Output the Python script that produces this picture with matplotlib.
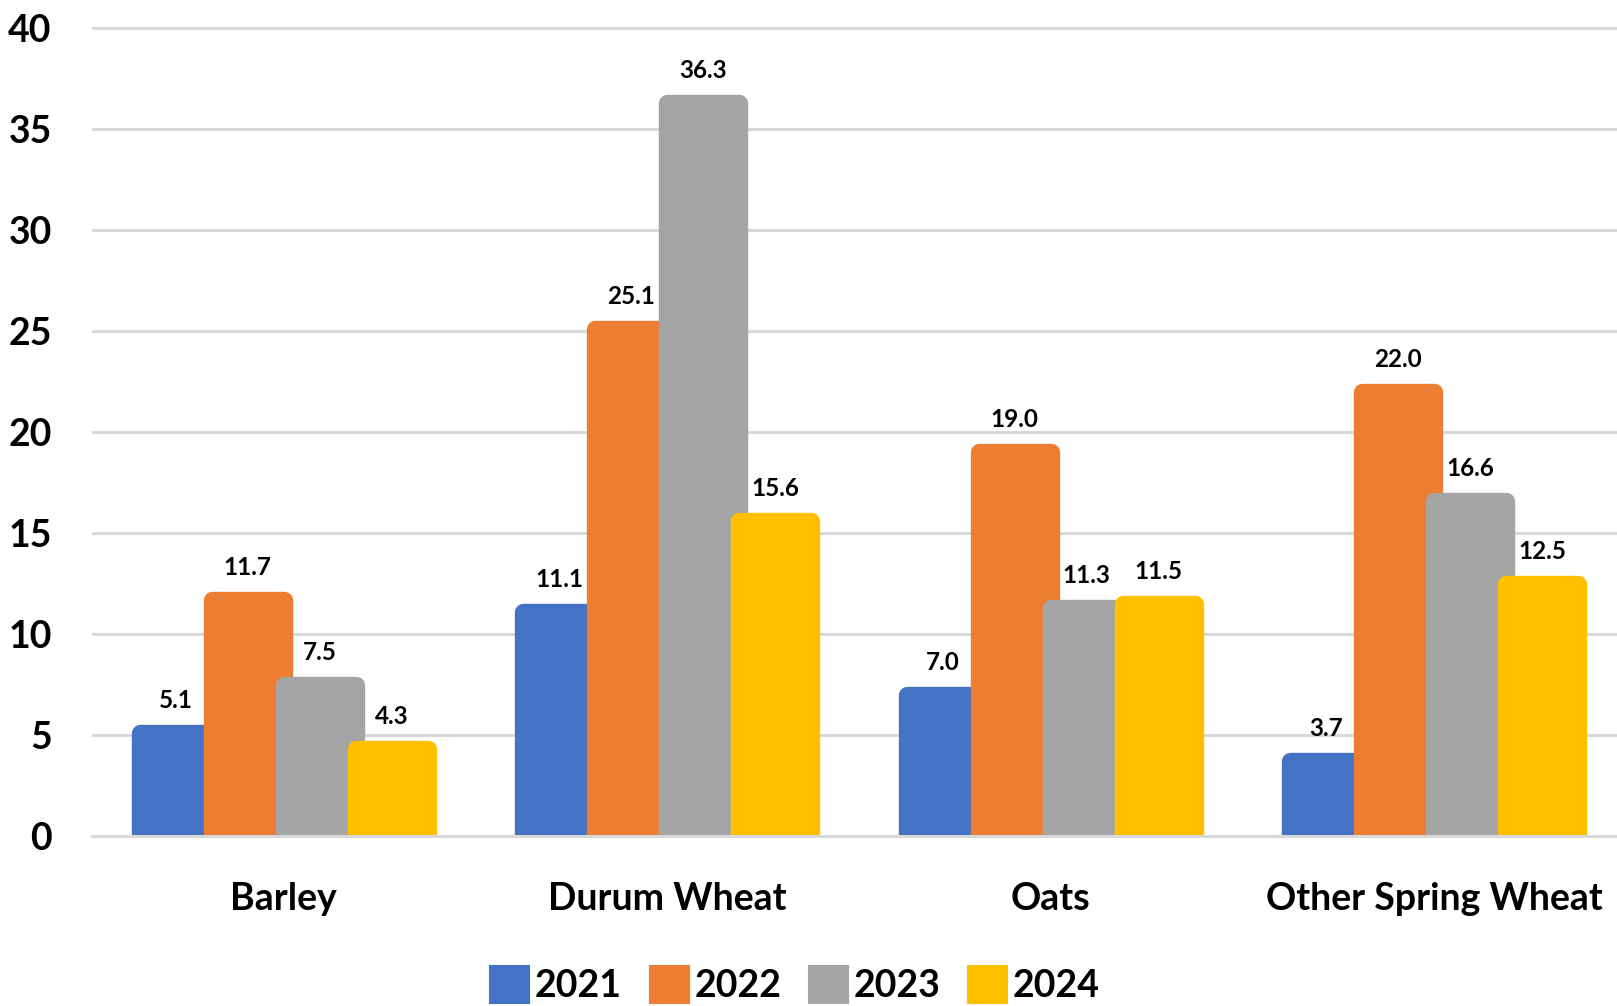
import matplotlib
matplotlib.use("Agg")
import matplotlib.pyplot as plt
import numpy as np
from matplotlib.patches import Patch

# data
crops = ["Barley", "Durum Wheat", "Oats", "Other Spring Wheat"]
years = ["2021", "2022", "2023", "2024"]
v2021 = [5.1, 11.1, 7.0, 3.7]
v2022 = [11.7, 25.1, 19.0, 22.0]
v2023 = [7.5, 36.3, 11.3, 16.6]
v2024 = [4.3, 15.6, 11.5, 12.5]
series = [v2021, v2022, v2023, v2024]
colors = ["#4472C4", "#ED7D31", "#A5A5A5", "#FFC000"]

plt.rcParams["font.family"] = ["Lato", "DejaVu Sans"]
plt.rcParams["font.weight"] = "bold"

fig = plt.figure(figsize=(16.17, 10.06), dpi=100)
ax = fig.add_axes([92 / 1617, 1 - 836 / 1006, (1626 - 92) / 1617, (836 - 24) / 1006])

x = np.arange(len(crops))
w = 0.1875
for i, (vals, c) in enumerate(zip(series, colors)):
    pos = x + (i - 1.5) * w
    # thick round-joined edge gives the rounded corners of the original
    ax.bar(pos, vals, width=w, color=c, edgecolor=c, linewidth=12.5,
           joinstyle="round", zorder=2 + i * 0.1)
    for px, v in zip(pos, vals):
        ax.annotate(f"{v:.1f}", (px, v), xytext=(0, 18), textcoords="offset points",
                    ha="center", va="baseline", fontsize=17.5, fontweight="bold",
                    zorder=5)

ax.set_xlim(-0.5, 3.5)
ax.set_ylim(0, 40.2)
ax.set_yticks(range(0, 41, 5))
ax.set_xticks(x)
ax.set_xticklabels(crops)
ax.tick_params(axis="y", length=0, pad=29, labelsize=27)
ax.tick_params(axis="x", length=0, pad=33, labelsize=27)
ax.grid(axis="y", color="#D9D9D9", linewidth=2.2, zorder=0)
ax.set_axisbelow(True)
for s in ["top", "right", "left"]:
    ax.spines[s].set_visible(False)
ax.spines["bottom"].set_color("#D9D9D9")
ax.spines["bottom"].set_linewidth(2.2)

handles = [Patch(facecolor=c, edgecolor=c, linewidth=8, joinstyle="round", label=y)
           for c, y in zip(colors, years)]
fig.legend(handles=handles, loc="center", bbox_to_anchor=(797 / 1617, 1 - 986 / 1006),
           ncol=4, frameon=False, fontsize=27, handlelength=0.8, handleheight=0.8,
           handletextpad=0.28, columnspacing=0.85, borderpad=0)

fig.savefig("out.png", dpi=100)
